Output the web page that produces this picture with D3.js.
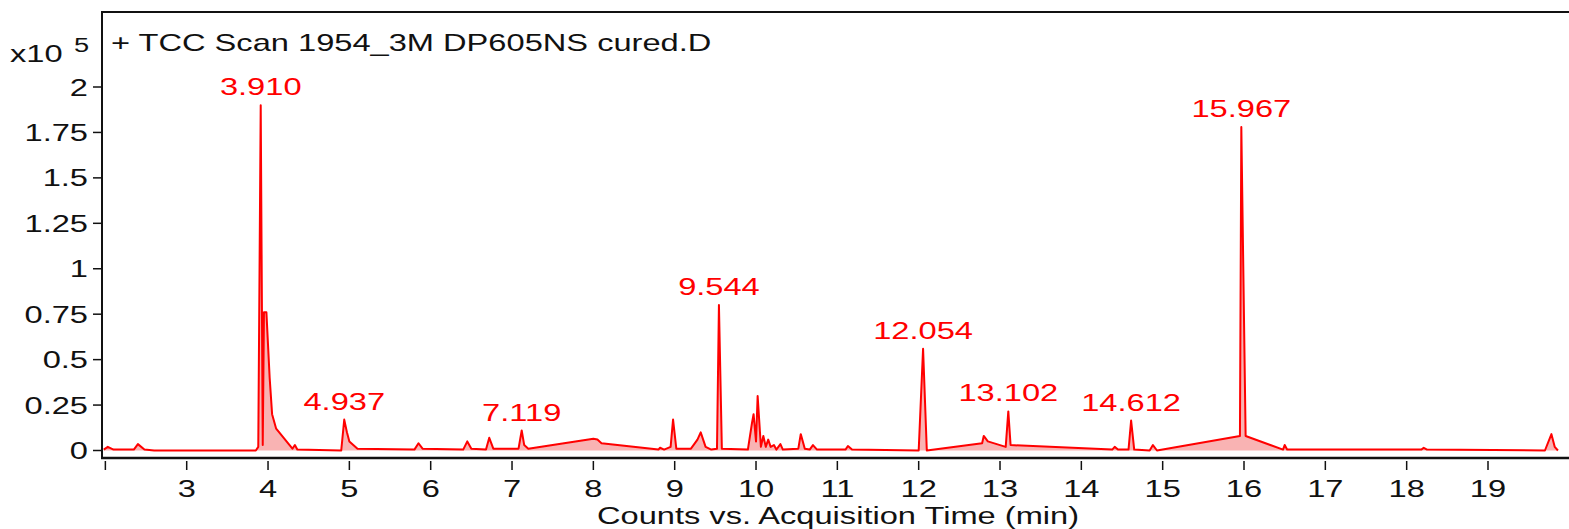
<!DOCTYPE html>
<html>
<head>
<meta charset="utf-8">
<script src="https://cdn.jsdelivr.net/npm/d3@7"></script>
<style>
  body { margin: 0; background: #fff; }
  svg { display: block; font-family: "Liberation Sans", Arial, sans-serif; }
</style>
</head>
<body>
<div id="chart"></div>
<script>

// retention time (min) and counts (x10^5)
const times = [1.98, 2.03, 2.1, 2.35, 2.4, 2.48, 2.6, 3.85, 3.88, 3.91, 3.935, 3.95, 3.98, 4.02, 4.05, 4.1, 4.3, 4.33, 4.36,
  4.9, 4.937, 4.97, 5.0, 5.1, 5.8, 5.85, 5.9, 6.4, 6.45, 6.5, 6.68, 6.72, 6.77, 7.08, 7.119, 7.15, 7.2,
  8.0, 8.05, 8.1, 8.8, 8.82, 8.87, 8.95, 8.98, 9.02, 9.2, 9.28, 9.32, 9.38, 9.45, 9.52, 9.544, 9.58,
  9.9, 9.95, 9.97, 10.0, 10.02, 10.06, 10.09, 10.12, 10.15, 10.18, 10.22, 10.25, 10.3, 10.33,
  10.52, 10.55, 10.6, 10.66, 10.7, 10.75, 11.1, 11.13, 11.18, 12.0, 12.054, 12.1,
  12.78, 12.8, 12.85, 13.07, 13.102, 13.13, 14.38, 14.41, 14.45, 14.58, 14.612, 14.65,
  14.84, 14.88, 14.93, 15.95, 15.967, 16.02, 16.48, 16.5, 16.53, 18.18, 18.21, 18.25, 19.7, 19.78, 19.82, 19.86];
const counts = [0.005, 0.02, 0.005, 0.005, 0.035, 0.005, 0.0, 0.0, 0.02, 1.90, 0.03, 0.76, 0.76, 0.40, 0.20, 0.12, 0.01, 0.03, 0.005,
  0.0, 0.17, 0.10, 0.05, 0.01, 0.005, 0.04, 0.01, 0.005, 0.05, 0.01, 0.005, 0.07, 0.01, 0.01, 0.11, 0.03, 0.01,
  0.065, 0.06, 0.04, 0.005, 0.015, 0.005, 0.02, 0.17, 0.01, 0.01, 0.06, 0.10, 0.02, 0.005, 0.01, 0.80, 0.01,
  0.005, 0.15, 0.20, 0.05, 0.30, 0.02, 0.08, 0.02, 0.06, 0.02, 0.03, 0.005, 0.035, 0.005,
  0.01, 0.09, 0.01, 0.005, 0.03, 0.005, 0.005, 0.025, 0.005, 0.0, 0.56, 0.0,
  0.04, 0.08, 0.05, 0.02, 0.215, 0.03, 0.005, 0.02, 0.005, 0.005, 0.165, 0.005,
  0.0, 0.03, 0.0, 0.08, 1.78, 0.08, 0.005, 0.03, 0.005, 0.005, 0.015, 0.005, 0.0, 0.09, 0.02, 0.0];

// labelled peaks
const peakTimes = [3.910, 4.937, 7.119, 9.544, 12.054, 13.102, 14.612, 15.967];
const peakLabels = ["3.910", "4.937", "7.119", "9.544", "12.054", "13.102", "14.612", "15.967"];
const peakHeights = [1.90, 0.17, 0.11, 0.80, 0.56, 0.215, 0.165, 1.78];

const xTicks = [2, 3, 4, 5, 6, 7, 8, 9, 10, 11, 12, 13, 14, 15, 16, 17, 18, 19];
const yTicks = [0, 0.25, 0.5, 0.75, 1, 1.25, 1.5, 1.75, 2];

const title = "+ TCC Scan 1954_3M DP605NS cured.D";
const xLabel = "Counts vs. Acquisition Time (min)";

const W = 1569, H = 529;
const stretch = 1.36;   // the original is stretched sideways
const svg = d3.select("#chart").append("svg").attr("width", W).attr("height", H);

const x = d3.scaleLinear().domain([3, 19]).range([186.7, 1488]);
const y = d3.scaleLinear().domain([0, 2]).range([450.5, 87]);

const data = times.map((t, i) => ({t: t, v: counts[i]}));

// text with the same sideways stretch
function label(sel, px, py) {
  return sel.attr("transform", `translate(${px},${py}) scale(${stretch},1)`);
}

// filled trace
svg.append("path")
  .datum(data)
  .attr("fill", "#f9b3b3")
  .attr("d", d3.area().x(d => x(d.t)).y0(y(0)).y1(d => y(d.v)));

svg.append("path")
  .datum(data)
  .attr("fill", "none")
  .attr("stroke", "#ff0000")
  .attr("stroke-width", 2)
  .attr("stroke-linejoin", "round")
  .attr("d", d3.line().x(d => x(d.t)).y(d => y(d.v)));

// frame: left and top
svg.append("line").attr("x1", 102).attr("x2", 102).attr("y1", 12).attr("y2", 459)
  .attr("stroke", "#111").attr("stroke-width", 2);
svg.append("line").attr("x1", 101).attr("x2", W).attr("y1", 12).attr("y2", 12)
  .attr("stroke", "#111").attr("stroke-width", 2);

// x axis
const xAxis = svg.append("g").attr("transform", "translate(0,458)");
xAxis.append("line").attr("x1", 101).attr("x2", W).attr("y1", 0).attr("y2", 0)
  .attr("stroke", "#111").attr("stroke-width", 2.5);
xAxis.selectAll("line.tick").data(xTicks).enter().append("line")
  .attr("class", "tick")
  .attr("x1", d => x(d)).attr("x2", d => x(d))
  .attr("y1", 3).attr("y2", 12)
  .attr("stroke", "#111").attr("stroke-width", 1.5);
xAxis.selectAll("text").data(xTicks.filter(d => d > 2)).enter().append("text")
  .call(s => s.each(function(d) { label(d3.select(this), x(d), 39); }))
  .attr("text-anchor", "middle")
  .attr("font-size", 24).attr("fill", "#111")
  .text(d => d);

label(svg.append("text"), 838, 524)
  .attr("text-anchor", "middle")
  .attr("font-size", 24).attr("fill", "#111")
  .text(xLabel);

// y axis
const yAxis = svg.append("g");
yAxis.selectAll("line").data(yTicks).enter().append("line")
  .attr("x1", 93).attr("x2", 102)
  .attr("y1", d => y(d)).attr("y2", d => y(d))
  .attr("stroke", "#111").attr("stroke-width", 1.5);
yAxis.selectAll("text").data(yTicks).enter().append("text")
  .call(s => s.each(function(d) { label(d3.select(this), 88, y(d) + 8.5); }))
  .attr("text-anchor", "end")
  .attr("font-size", 24).attr("fill", "#111")
  .text(d => d);

label(svg.append("text"), 10, 62)
  .attr("font-size", 24).attr("fill", "#111").text("x10");
label(svg.append("text"), 74, 52)
  .attr("font-size", 20).attr("fill", "#111").text("5");

label(svg.append("text"), 111, 51)
  .attr("font-size", 24).attr("fill", "#111").text(title);

// peak labels
svg.selectAll("text.peak").data(peakTimes).enter().append("text")
  .attr("class", "peak")
  .call(s => s.each(function(d, i) { label(d3.select(this), x(d), y(peakHeights[i]) - 10); }))
  .attr("text-anchor", "middle")
  .attr("font-size", 24).attr("fill", "#ff0000")
  .text((d, i) => peakLabels[i]);

</script>
</body>
</html>
